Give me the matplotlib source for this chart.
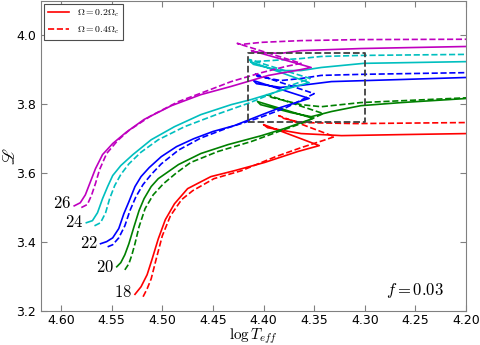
import matplotlib
matplotlib.use('Agg')
import matplotlib.pyplot as plt

plt.rcParams['mathtext.fontset'] = 'cm'

# tracks: log Teff and luminosity, solid = 0.2 Omega_c, dashed = 0.4 Omega_c
t18_a = [4.527, 4.521, 4.515, 4.510, 4.504, 4.497, 4.488, 4.475, 4.452, 4.429, 4.399, 4.366, 4.345,
         4.400, 4.396, 4.363, 4.323, 4.264, 4.199]
l18_a = [3.248, 3.270, 3.305, 3.351, 3.409, 3.465, 3.511, 3.555, 3.590, 3.607, 3.631, 3.663, 3.680,
         3.741, 3.732, 3.715, 3.709, 3.712, 3.715]
t18_b = [4.519, 4.515, 4.511, 4.506, 4.500, 4.492, 4.481, 4.470, 4.449, 4.422, 4.388, 4.363, 4.341, 4.330,
         4.385, 4.380, 4.363, 4.309, 4.199]
l18_b = [3.241, 3.264, 3.293, 3.351, 3.418, 3.476, 3.523, 3.549, 3.584, 3.607, 3.648, 3.674, 3.695, 3.706,
         3.767, 3.759, 3.747, 3.744, 3.747]

t20_a = [4.545, 4.541, 4.537, 4.533, 4.528, 4.523, 4.518, 4.511, 4.504, 4.484, 4.462, 4.435, 4.402, 4.380, 4.351,
         4.406, 4.403, 4.373, 4.353, 4.333, 4.304, 4.264, 4.199]
l20_a = [3.328, 3.340, 3.363, 3.395, 3.444, 3.491, 3.526, 3.561, 3.584, 3.625, 3.657, 3.683, 3.709, 3.729, 3.759,
         3.808, 3.799, 3.776, 3.764, 3.779, 3.796, 3.805, 3.817]
t20_b = [4.537, 4.533, 4.530, 4.527, 4.523, 4.517, 4.509, 4.499, 4.486, 4.472, 4.445, 4.412, 4.385, 4.363, 4.341,
         4.397, 4.392, 4.363, 4.343, 4.304, 4.199]
l20_b = [3.319, 3.337, 3.363, 3.395, 3.444, 3.497, 3.537, 3.569, 3.601, 3.631, 3.663, 3.692, 3.721, 3.744, 3.773,
         3.828, 3.820, 3.799, 3.793, 3.805, 3.819]

t22_a = [4.561, 4.555, 4.549, 4.543, 4.538, 4.533, 4.527, 4.521, 4.513, 4.501, 4.486, 4.469, 4.450, 4.429, 4.404,
         4.383, 4.355, 4.410, 4.407, 4.383, 4.363, 4.333, 4.264, 4.199]
l22_a = [3.395, 3.401, 3.412, 3.439, 3.482, 3.517, 3.561, 3.590, 3.616, 3.648, 3.677, 3.700, 3.721, 3.738, 3.767,
         3.791, 3.817, 3.869, 3.860, 3.849, 3.855, 3.866, 3.872, 3.878]
t22_b = [4.554, 4.549, 4.543, 4.537, 4.532, 4.526, 4.519, 4.511, 4.501, 4.484, 4.462, 4.435, 4.405, 4.378, 4.350,
         4.409, 4.406, 4.383, 4.363, 4.343, 4.304, 4.199]
l22_b = [3.386, 3.392, 3.412, 3.447, 3.491, 3.532, 3.567, 3.596, 3.627, 3.667, 3.702, 3.732, 3.760, 3.790, 3.831,
         3.889, 3.881, 3.869, 3.875, 3.884, 3.887, 3.892]

t24_a = [4.575, 4.569, 4.564, 4.559, 4.554, 4.549, 4.541, 4.529, 4.511, 4.488, 4.462, 4.432, 4.412, 4.383, 4.355,
         4.413, 4.410, 4.383, 4.363, 4.343, 4.301, 4.199]
l24_a = [3.456, 3.462, 3.485, 3.526, 3.561, 3.593, 3.622, 3.654, 3.697, 3.735, 3.770, 3.799, 3.814, 3.840, 3.863,
         3.924, 3.916, 3.898, 3.898, 3.907, 3.919, 3.924]
t24_b = [4.567, 4.561, 4.556, 4.552, 4.547, 4.541, 4.533, 4.521, 4.504, 4.478, 4.445, 4.415, 4.395, 4.373, 4.354,
         4.414, 4.411, 4.393, 4.363, 4.343, 4.304, 4.199]
l24_b = [3.447, 3.456, 3.485, 3.526, 3.564, 3.596, 3.627, 3.661, 3.697, 3.735, 3.772, 3.803, 3.827, 3.855, 3.875,
         3.930, 3.924, 3.927, 3.933, 3.939, 3.942, 3.945]

t26_a = [4.587, 4.581, 4.576, 4.571, 4.566, 4.559, 4.549, 4.536, 4.518, 4.491, 4.462, 4.432, 4.395, 4.363, 4.353,
         4.412, 4.408, 4.383, 4.363, 4.304, 4.199]
l26_a = [3.505, 3.514, 3.537, 3.575, 3.613, 3.654, 3.686, 3.718, 3.756, 3.796, 3.828, 3.852, 3.884, 3.901, 3.907,
         3.956, 3.951, 3.948, 3.956, 3.962, 3.968]
t26_b = [4.580, 4.574, 4.570, 4.566, 4.562, 4.555, 4.544, 4.533, 4.511, 4.484, 4.455, 4.432, 4.402, 4.378, 4.363,
         4.426, 4.422, 4.402, 4.363, 4.304, 4.199]
l26_b = [3.500, 3.509, 3.535, 3.570, 3.610, 3.657, 3.695, 3.724, 3.767, 3.808, 3.840, 3.866, 3.892, 3.910, 3.919,
         3.977, 3.974, 3.980, 3.985, 3.988, 3.989]

masses = ['18', '20', '22', '24', '26']
colors = ['r', 'g', 'b', 'c', 'm']
label_t = [4.539, 4.557, 4.572, 4.587, 4.599]
label_l = [3.255, 3.328, 3.398, 3.459, 3.512]

box_t = [4.415, 4.30, 4.30, 4.415, 4.415]
box_l = [3.75, 3.75, 3.95, 3.95, 3.75]

tracks_a = [(t18_a, l18_a), (t20_a, l20_a), (t22_a, l22_a), (t24_a, l24_a), (t26_a, l26_a)]
tracks_b = [(t18_b, l18_b), (t20_b, l20_b), (t22_b, l22_b), (t24_b, l24_b), (t26_b, l26_b)]

fig = plt.figure(figsize=(4.8, 3.45), dpi=100)
ax = fig.add_axes([0.085, 0.099, 0.886, 0.898])

for i in range(len(masses)):
    ax.plot(tracks_a[i][0], tracks_a[i][1], color=colors[i], lw=1.2, ls='-')
    ax.plot(tracks_b[i][0], tracks_b[i][1], color=colors[i], lw=1.2, ls='--')
    ax.text(label_t[i], label_l[i], '$' + masses[i] + '$', ha='center', va='center', fontsize=12)

ax.plot(box_t, box_l, color='0.25', lw=1.3, ls='--')

h1, = ax.plot([], [], 'r-', lw=1.2)
h2, = ax.plot([], [], 'r--', lw=1.2)
leg = ax.legend([h1, h2], [r'$\Omega=0.2\Omega_c$', r'$\Omega=0.4\Omega_c$'], loc='upper left',
                fontsize=7, fancybox=False, framealpha=1, edgecolor='0.3', handlelength=2.2,
                borderaxespad=0.3)
leg.get_frame().set_linewidth(0.8)

ax.text(4.251, 3.258, r'$f=0.03$', ha='center', va='center', fontsize=12)

ax.set_xlim(4.62, 4.20)
ax.set_ylim(3.2, 4.1)
ax.set_xticks([4.60, 4.55, 4.50, 4.45, 4.40, 4.35, 4.30, 4.25, 4.20])
ax.set_yticks([3.2, 3.4, 3.6, 3.8, 4.0])
ax.tick_params(direction='in', top=True, right=True, labelsize=9, color='0.5', length=4)
ax.tick_params(axis='x', pad=2)
for s in ax.spines.values():
    s.set_color('0.5')
ax.set_xlabel(r'$\log T_{eff}$', fontsize=11, labelpad=0)
ax.set_ylabel(r'$\mathscr{L}$', fontsize=12, math_fontfamily='stix')
ax.yaxis.set_label_coords(-0.052, 0.5)

fig.savefig('out.png', dpi=100)
